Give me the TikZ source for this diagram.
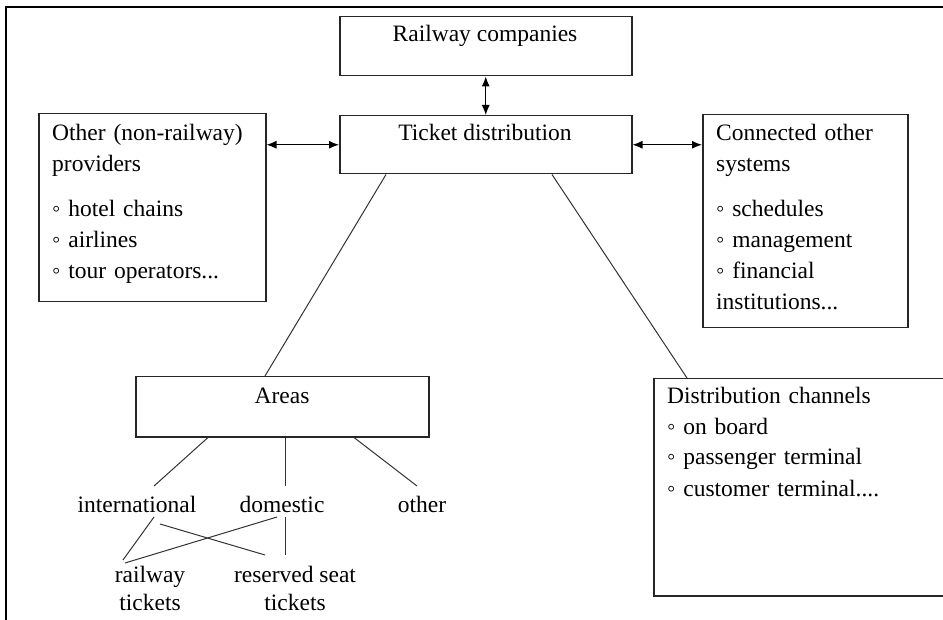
\documentclass[tikz,border=0pt]{standalone}
\usepackage{fontspec}
\setmainfont{Liberation Serif}
\usetikzlibrary{arrows.meta}
\begin{document}
\begin{tikzpicture}[x=1pt,y=-1pt,
  every node/.style={inner sep=0pt, font=\fontsize{23.5}{31}\selectfont},
  box/.style={draw=black!85, line width=1.5pt, rectangle, anchor=north west},
  link/.style={draw=black!80, line width=1pt},
  biarrow/.style={draw=black, line width=1.2pt,
    {Latex[length=10pt,width=8pt]}-{Latex[length=10pt,width=8pt]}},
  word/.style={anchor=base},
  listtext/.style={anchor=base west, align=left, text width=#1}]

\useasboundingbox (0,0) rectangle (943,620);

% outer frame (left and top edges)
\draw[line width=2.5pt] (6,620) -- (6,7) -- (943,7);

% boxes
\node[box, minimum width=292, minimum height=59] (railway) at (339,16) {};
\node[box, minimum width=292, minimum height=58] (ticket) at (339,115) {};
\node[box, minimum width=227, minimum height=188] (other) at (38,113) {};
\node[box, minimum width=205, minimum height=213] (conn) at (702,114) {};
\node[box, minimum width=293, minimum height=60] (areas) at (135,376) {};
\node[box, minimum width=300, minimum height=217] (dist) at (653,378) {};

% box texts
\node[word] at (485,42) {Railway companies};
\node[word] at (485,141) {Ticket distribution};
\node[word] at (282,403) {Areas};
\node[listtext=210] at (52,141) {Other (non-railway)\\providers\\[14pt]◦ hotel chains\\◦ airlines\\◦ tour operators...};
\node[listtext=190] at (716,141) {Connected other\\systems\\[14pt]◦ schedules\\◦ management\\◦ financial\\institutions...};
\node[listtext=270] at (667,403) {Distribution channels\\◦ on board\\◦ passenger terminal\\◦ customer terminal....};

% area labels
\node[word] (intl) at (137,512) {international};
\node[word] (dom) at (282,512) {domestic};
\node[word] (oth) at (422,512) {other};
\node[word] (rail) at (150,582) {railway};
\node[word] (railt) at (150,610) {tickets};
\node[word] (resv) at (295,582) {reserved seat};
\node[word] (resvt) at (295,610) {tickets};

% arrows
\draw[biarrow] (railway.south) -- (ticket.north);
\draw[biarrow] (ticket.west -| other.east) -- (ticket.west);
\draw[biarrow] (ticket.east) -- (ticket.east -| conn.west);

% connectors
\draw[link] ([xshift=47pt]ticket.south west) -- ([xshift=130pt]areas.north west);
\draw[link] ([xshift=213pt]ticket.south west) -- ([xshift=34pt]dist.north west);

\draw[link] ([xshift=73pt]areas.south west) -- ([shift={(17,-26)}]intl.base);
\draw[link] ([xshift=150pt]areas.south west) -- ([shift={(3,-26)}]dom.base);
\draw[link] ([xshift=219pt]areas.south west) -- ([shift={(-5,-26)}]oth.base);

\draw[link] ([shift={(17,5)}]intl.base) -- ([shift={(-27,-22)}]rail.base);
\draw[link] ([shift={(23,12)}]intl.base) -- ([shift={(-30,-27)}]resv.base);
\draw[link] ([shift={(-5,5)}]dom.base) -- ([shift={(-25,-19)}]rail.base);
\draw[link] ([shift={(3,5)}]dom.base) -- ([shift={(-10,-27)}]resv.base);
\end{tikzpicture}
\end{document}
